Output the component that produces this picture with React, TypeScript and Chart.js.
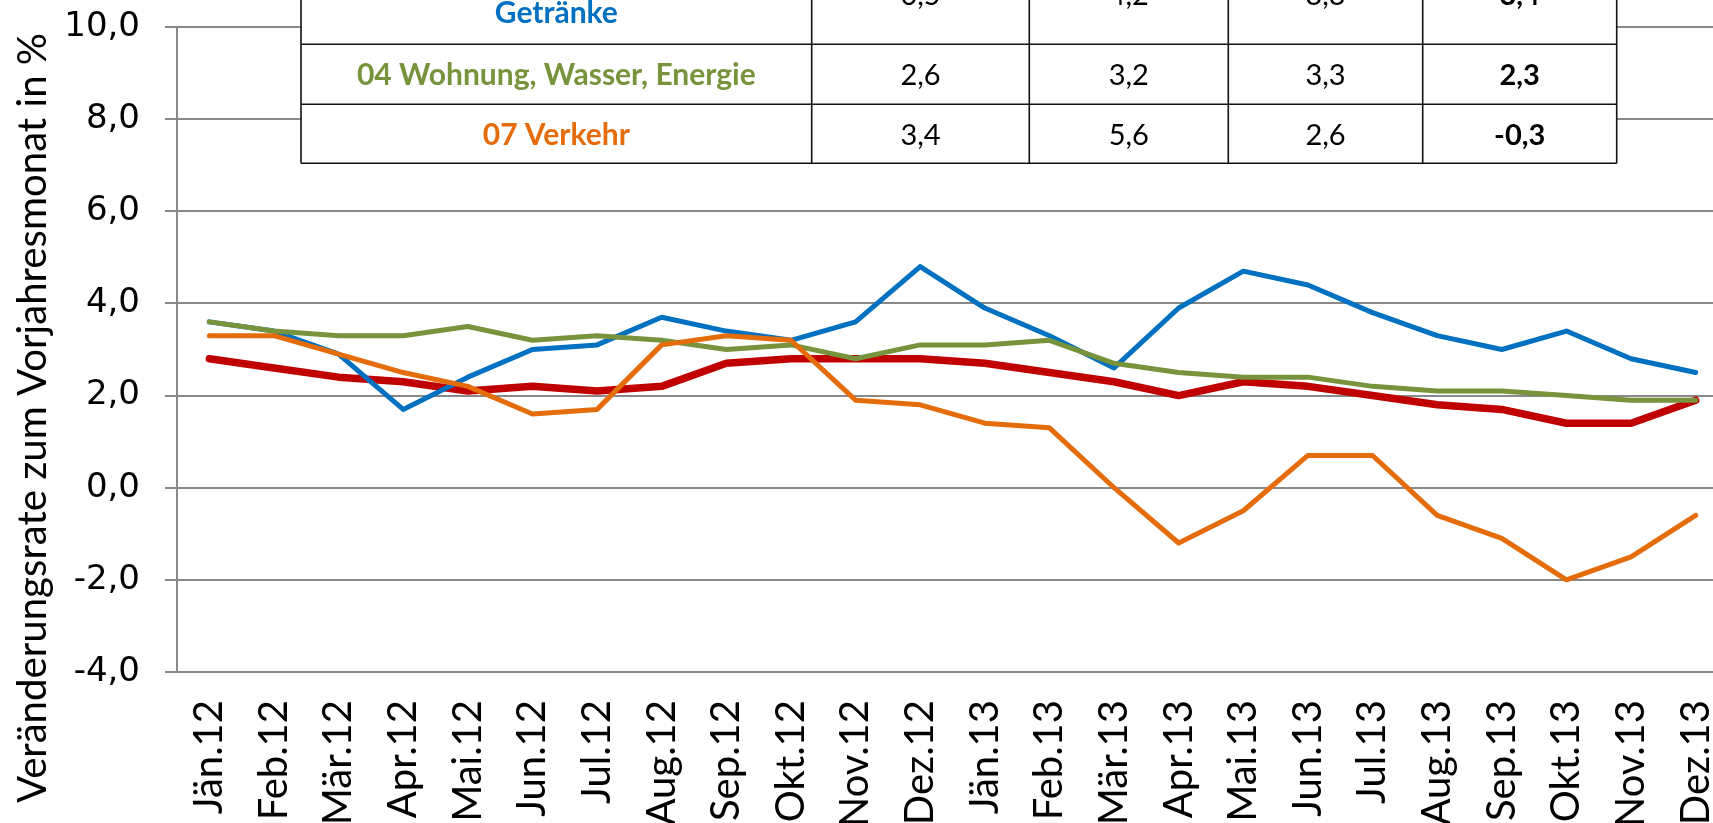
import { useEffect, useRef } from "react";
import { Chart, registerables } from "chart.js";

Chart.register(...registerables);

const categories = [
  "Jän.12", "Feb.12", "Mär.12", "Apr.12", "Mai.12", "Jun.12", "Jul.12", "Aug.12",
  "Sep.12", "Okt.12", "Nov.12", "Dez.12", "Jän.13", "Feb.13", "Mär.13", "Apr.13",
  "Mai.13", "Jun.13", "Jul.13", "Aug.13", "Sep.13", "Okt.13", "Nov.13", "Dez.13",
];
const vpiGesamt = [2.8, 2.6, 2.4, 2.3, 2.1, 2.2, 2.1, 2.2, 2.7, 2.8, 2.8, 2.8, 2.7, 2.5, 2.3, 2.0, 2.3, 2.2, 2.0, 1.8, 1.7, 1.4, 1.4, 1.9];
const nahrungsmittel = [3.6, 3.4, 2.9, 1.7, 2.4, 3.0, 3.1, 3.7, 3.4, 3.2, 3.6, 4.8, 3.9, 3.3, 2.6, 3.9, 4.7, 4.4, 3.8, 3.3, 3.0, 3.4, 2.8, 2.5];
const wohnung = [3.6, 3.4, 3.3, 3.3, 3.5, 3.2, 3.3, 3.2, 3.0, 3.1, 2.8, 3.1, 3.1, 3.2, 2.7, 2.5, 2.4, 2.4, 2.2, 2.1, 2.1, 2.0, 1.9, 1.9];
const verkehr = [3.3, 3.3, 2.9, 2.5, 2.2, 1.6, 1.7, 3.1, 3.3, 3.2, 1.9, 1.8, 1.4, 1.3, 0.0, -1.2, -0.5, 0.7, 0.7, -0.6, -1.1, -2.0, -1.5, -0.6];
const yTicks = [-4, -2, 0, 2, 4, 6, 8, 10];
const yTitle = "Veränderungsrate zum Vorjahresmonat in %";

const tableLabels = [["01 Nahrungsmittel und alkoholfreie", "Getränke"], ["04 Wohnung, Wasser, Energie"], ["07 Verkehr"]];
const tableNahrung = ["0,5", "4,2", "3,3", "3,4"];
const tableWohnung = ["2,6", "3,2", "3,3", "2,3"];
const tableVerkehr = ["3,4", "5,6", "2,6", "-0,3"];

const BLUE = "#0070C0";
const GREEN = "#77933C";
const ORANGE = "#E46C0A";
const RED = "#C00000";
const GRID = "#898989";

const colX = [301, 811.7, 1029.3, 1228.3, 1422.7, 1616.7];
const rowY = [-56, 44.3, 104.3, 163.3];

const tablePlugin = {
  id: "dataTable",
  afterDraw(chart: any) {
    const ctx = chart.ctx as CanvasRenderingContext2D;
    ctx.save();
    ctx.fillStyle = "#fff";
    ctx.fillRect(colX[0], rowY[0], colX[5] - colX[0], rowY[3] - rowY[0]);
    ctx.strokeStyle = "#111";
    ctx.lineWidth = 1.6;
    ctx.beginPath();
    for (const y of rowY) {
      ctx.moveTo(colX[0], y);
      ctx.lineTo(colX[5], y);
    }
    for (const x of colX) {
      ctx.moveTo(x, rowY[0]);
      ctx.lineTo(x, rowY[3]);
    }
    ctx.stroke();

    const rowColors = [BLUE, GREEN, ORANGE];
    const rowValues = [tableNahrung, tableWohnung, tableVerkehr];
    ctx.textAlign = "center";
    ctx.textBaseline = "middle";
    for (let r = 0; r < 3; r++) {
      const cy = (rowY[r] + rowY[r + 1]) / 2 + 1.5;
      const lines = tableLabels[r];
      const lh = 36;
      ctx.fillStyle = rowColors[r];
      ctx.font = "bold 30px Lato";
      const cx = (colX[0] + colX[1]) / 2;
      lines.forEach((t, i) => {
        const y = cy + (i - (lines.length - 1) / 2) * lh;
        ctx.fillText(t, cx, y);
      });
      ctx.fillStyle = "#000";
      rowValues[r].forEach((v, c) => {
        ctx.font = c === 3 ? "bold 29px Lato" : "29px Lato";
        ctx.fillText(v, (colX[c + 1] + colX[c + 2]) / 2, cy);
      });
    }
    ctx.restore();
  },
};

const yTitlePlugin = {
  id: "yTitleText",
  afterDraw(chart: any) {
    const ctx = chart.ctx as CanvasRenderingContext2D;
    ctx.save();
    ctx.font = "40px Lato";
    ctx.fillStyle = "#000";
    ctx.textAlign = "left";
    ctx.textBaseline = "alphabetic";
    const w = ctx.measureText(yTitle).width;
    const targetLen = 770;
    ctx.translate(46, 803);
    ctx.rotate(-Math.PI / 2);
    ctx.scale(targetLen / w, 1);
    ctx.fillText(yTitle, 0, 0);
    ctx.restore();
  },
};

export default function App() {
  const ref = useRef<HTMLCanvasElement>(null);

  useEffect(() => {
    const canvas = ref.current;
    if (!canvas) return;
    const common = {
      pointRadius: 0,
      pointHoverRadius: 0,
      tension: 0,
      fill: false,
      borderCapStyle: "round" as const,
      borderJoinStyle: "round" as const,
    };
    const chart = new Chart(canvas, {
      type: "line",
      data: {
        labels: categories,
        datasets: [
          { ...common, label: "VPI gesamt", data: vpiGesamt, borderColor: RED, backgroundColor: RED, borderWidth: 7.5, order: 3 },
          { ...common, label: "01 Nahrungsmittel und alkoholfreie Getränke", data: nahrungsmittel, borderColor: BLUE, backgroundColor: BLUE, borderWidth: 5, order: 2 },
          { ...common, label: "04 Wohnung, Wasser, Energie", data: wohnung, borderColor: GREEN, backgroundColor: GREEN, borderWidth: 5, order: 1 },
          { ...common, label: "07 Verkehr", data: verkehr, borderColor: ORANGE, backgroundColor: ORANGE, borderWidth: 5, order: 0 },
        ],
      },
      options: {
        animation: false,
        responsive: false,
        maintainAspectRatio: false,
        layout: { padding: { top: 27, right: 12, left: 0, bottom: 0 } },
        plugins: {
          legend: { display: false },
          tooltip: { enabled: false },
          title: { display: false },
        },
        scales: {
          x: {
            type: "category",
            offset: true,
            grid: { display: false, drawTicks: false },
            border: { display: false },
            ticks: {
              autoSkip: false,
              maxRotation: 90,
              minRotation: 90,
              padding: 28,
              color: "#000",
              font: { family: "Lato", size: 40 },
            },
            afterFit: (s: any) => {
              s.height = 151;
              s.paddingLeft = 0;
              s.paddingRight = 0;
            },
          },
          y: {
            type: "linear",
            min: -4,
            max: 10,
            grid: { color: GRID, lineWidth: 2, tickLength: 12, drawTicks: true },
            border: { display: true, color: GRID, width: 2 },
            ticks: {
              padding: 25,
              color: "#000",
              font: { family: "DejaVu Sans", size: 34 },
              callback: (v: any) => Number(v).toFixed(1).replace(".", ","),
            },
            afterBuildTicks: (s: any) => {
              s.ticks = yTicks.map((v) => ({ value: v }));
            },
            afterFit: (s: any) => {
              s.width = 177;
              s.paddingTop = 0;
              s.paddingBottom = 0;
            },
          },
        },
      },
      plugins: [tablePlugin, yTitlePlugin],
    });
    return () => chart.destroy();
  }, []);

  return (
    <div
      style={{
        position: "fixed",
        left: 0,
        top: 0,
        width: "1713px",
        height: "823px",
        overflow: "hidden",
        background: "#fff",
      }}
    >
      <canvas ref={ref} width={1740} height={823} style={{ display: "block" }} />
    </div>
  );
}
